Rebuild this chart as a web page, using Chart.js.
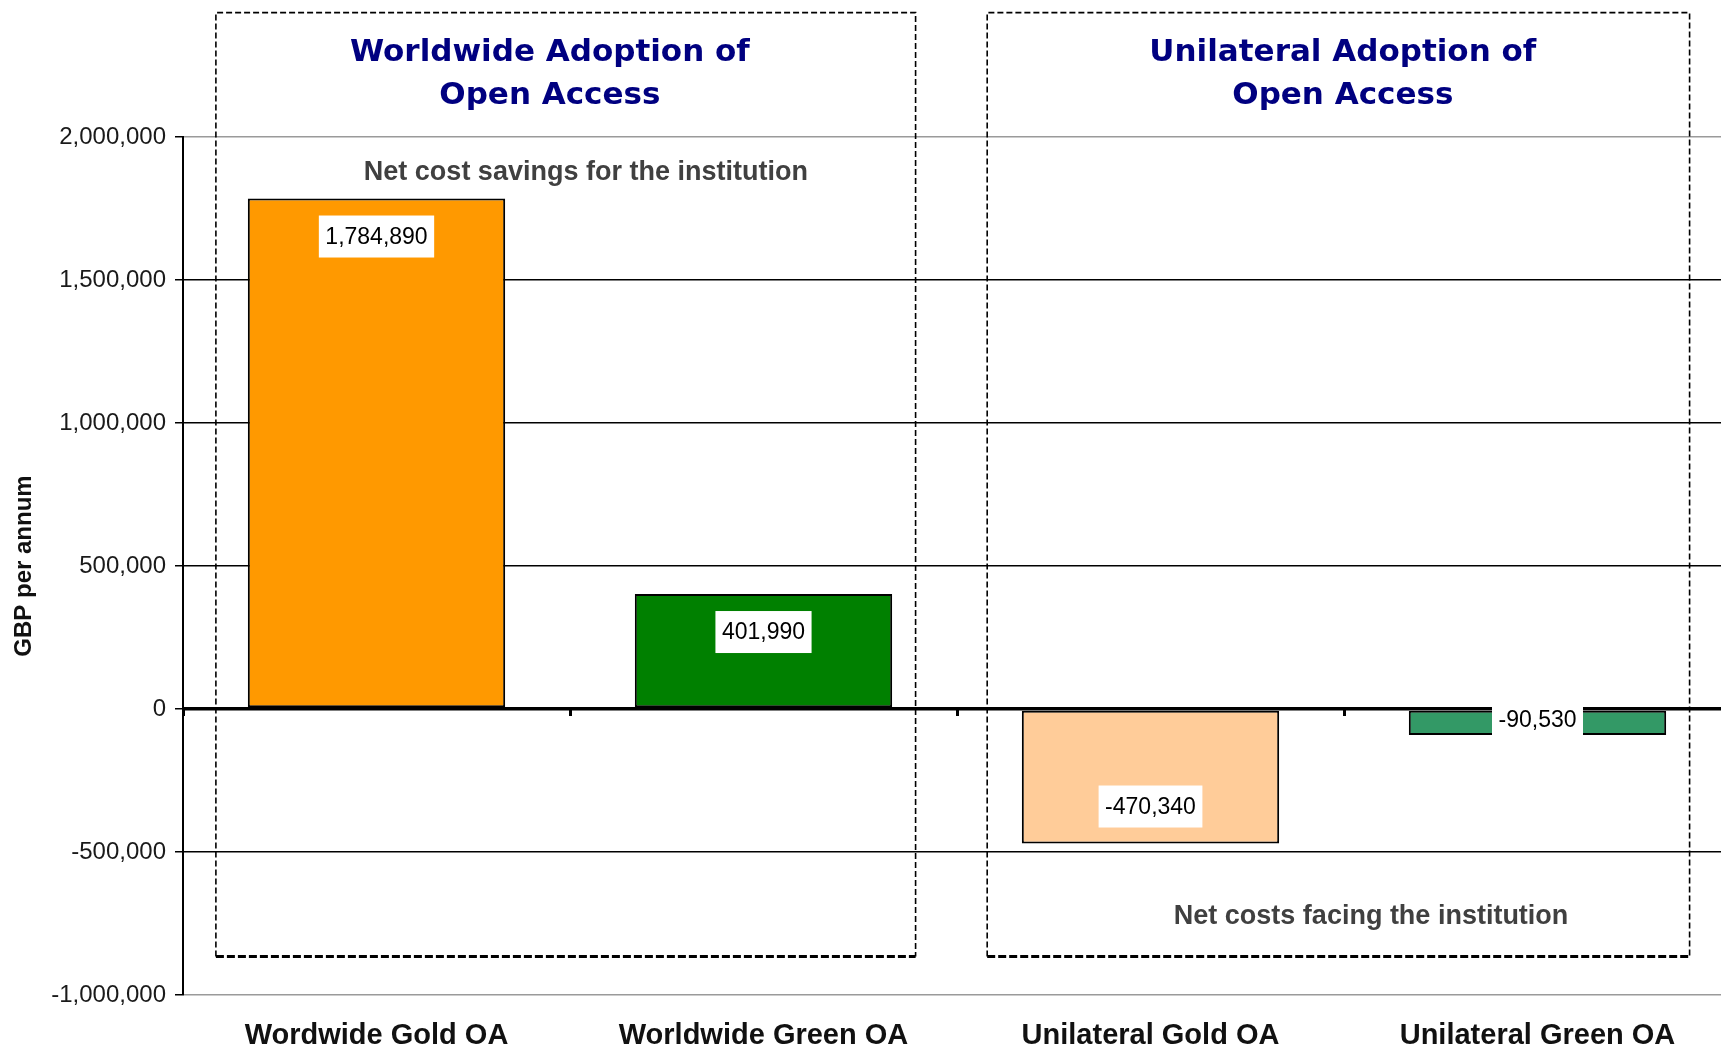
<!DOCTYPE html>
<html><head><meta charset="utf-8">
<script src="https://cdn.jsdelivr.net/npm/chart.js@4/dist/chart.umd.min.js"></script>
<style>html,body{margin:0;padding:0;background:#fff;overflow:hidden;} #wrap{width:1731px;height:1048px;}</style>
</head><body><div id="wrap"><canvas id="c" width="1731" height="1048"></canvas></div>
<script>
// ---- data ----
const categories = ['Wordwide Gold OA', 'Worldwide Green OA', 'Unilateral Gold OA', 'Unilateral Green OA'];
const values = [1784890, 401990, -470340, -90530];
const barColors = ['#FF9900', '#008000', '#FFCC99', '#339966'];
const yTicks = [-1000000, -500000, 0, 500000, 1000000, 1500000, 2000000];
const yAxisTitle = 'GBP per annum';
const groupTitles = [['Worldwide Adoption of', 'Open Access'], ['Unilateral Adoption of', 'Open Access']];
const notes = ['Net cost savings for the institution', 'Net costs facing the institution'];

// ---- annotation layout (category units / value units) ----
const groups = [
  {from: -0.415, to: 1.393, titleX: 0.448, title: groupTitles[0]},
  {from: 1.578, to: 3.393, titleX: 2.497, title: groupTitles[1]}
];
const boxTop = 2435000, boxBottom = -865000;
const titleLineY = [2294000, 2144000];
const noteSpecs = [
  {text: notes[0], x: 0.541, y: 1877000},
  {text: notes[1], x: 2.570, y: -727000}
];

function catPx(xs, u) {
  const p0 = xs.getPixelForValue(0), p1 = xs.getPixelForValue(1);
  return p0 + u * (p1 - p0);
}

const annotations = {
  id: 'annotations',
  afterDatasetsDraw(chart) {
    const ctx = chart.ctx, xs = chart.scales.x, ys = chart.scales.y;
    ctx.save();
    const yT = ys.getPixelForValue(boxTop), yB = ys.getPixelForValue(boxBottom);
    groups.forEach(g => {
      const xL = catPx(xs, g.from), xR = catPx(xs, g.to);
      ctx.strokeStyle = '#000';
      ctx.lineWidth = 1.6;
      ctx.setLineDash([6, 3]);
      ctx.beginPath();
      ctx.moveTo(xL, yB); ctx.lineTo(xL, yT); ctx.lineTo(xR, yT); ctx.lineTo(xR, yB);
      ctx.stroke();
      ctx.lineWidth = 3;
      ctx.setLineDash([8, 3]);
      ctx.beginPath();
      ctx.moveTo(xL, yB); ctx.lineTo(xR, yB);
      ctx.stroke();
      ctx.setLineDash([]);
      ctx.fillStyle = '#000080';
      ctx.font = 'bold 31px "DejaVu Sans"';
      ctx.textAlign = 'center';
      ctx.textBaseline = 'middle';
      const tx = catPx(xs, g.titleX);
      g.title.forEach((line, i) => ctx.fillText(line, tx, ys.getPixelForValue(titleLineY[i])));
    });
    ctx.fillStyle = '#404040';
    ctx.font = 'bold 27px "Liberation Sans"';
    ctx.textAlign = 'center';
    ctx.textBaseline = 'middle';
    noteSpecs.forEach(n => ctx.fillText(n.text, catPx(xs, n.x), ys.getPixelForValue(n.y)));

    // data labels
    const meta = chart.getDatasetMeta(0);
    ctx.font = '23px "Liberation Sans"';
    meta.data.forEach((bar, i) => {
      const v = values[i];
      const txt = v.toLocaleString('en-US');
      const w = ctx.measureText(txt).width + 13;
      const h = 42;
      const barH = Math.abs(bar.base - bar.y);
      let cy;
      if (barH < h + 20) cy = (bar.y + bar.base) / 2 - 3;
      else cy = v >= 0 ? bar.y + 38 : bar.y - 37;
      ctx.fillStyle = '#fff';
      ctx.fillRect(bar.x - w / 2, cy - h / 2, w, h);
      ctx.fillStyle = '#000';
      ctx.fillText(txt, bar.x, cy + 1);
    });
    ctx.restore();
  }
};

new Chart(document.getElementById('c'), {
  type: 'bar',
  data: {
    labels: categories,
    datasets: [{
      data: values,
      backgroundColor: barColors,
      borderColor: '#000',
      borderWidth: 2,
      borderSkipped: false,
      barPercentage: 0.665,
      categoryPercentage: 1
    }]
  },
  options: {
    responsive: false,
    animation: false,
    layout: {padding: {top: 137, left: 0, right: 0, bottom: 0}},
    plugins: {legend: {display: false}, tooltip: {enabled: false}},
    scales: {
      x: {
        type: 'category', position: 'bottom', offset: true,
        grid: {display: false, drawTicks: false},
        border: {display: false},
        ticks: {font: {family: 'Liberation Sans', size: 29, weight: 'bold'}, color: '#111', padding: 24, maxRotation: 0, autoSkip: false},
        afterFit(s) { s.height = 53; }
      },
      x2: {
        type: 'category', axis: 'x', position: {y: 0}, offset: true,
        grid: {drawOnChartArea: false, drawTicks: true, tickLength: 7, tickWidth: 3, tickColor: '#000', offset: true},
        border: {display: false},
        ticks: {display: false},
        afterFit(s) { s.height = 0; }
      },
      y: {
        min: yTicks[0], max: yTicks[yTicks.length - 1],
        afterBuildTicks(s) { s.ticks = yTicks.map(v => ({value: v})); },
        ticks: {
          callback: v => Number(v).toLocaleString('en-US'),
          font: {family: 'Liberation Sans', size: 24}, color: '#1a1a1a', padding: 9
        },
        grid: {
          color: c => (c.tick && (c.tick.value === yTicks[0] || c.tick.value === yTicks[yTicks.length - 1])) ? '#9a9a9a' : '#000',
          lineWidth: c => (c.tick && c.tick.value === 0) ? 3.5 : 1.5,
          tickLength: 8, tickColor: '#000', tickWidth: 1.5
        },
        border: {display: true, color: '#000', width: 2},
        title: {display: true, text: yAxisTitle, font: {family: 'Liberation Sans', size: 24, weight: 'bold'}, color: '#111', padding: {top: 10, bottom: 0}},
        afterFit(s) { s.width = 183; }
      }
    }
  },
  plugins: [annotations]
});
</script>
</body></html>
